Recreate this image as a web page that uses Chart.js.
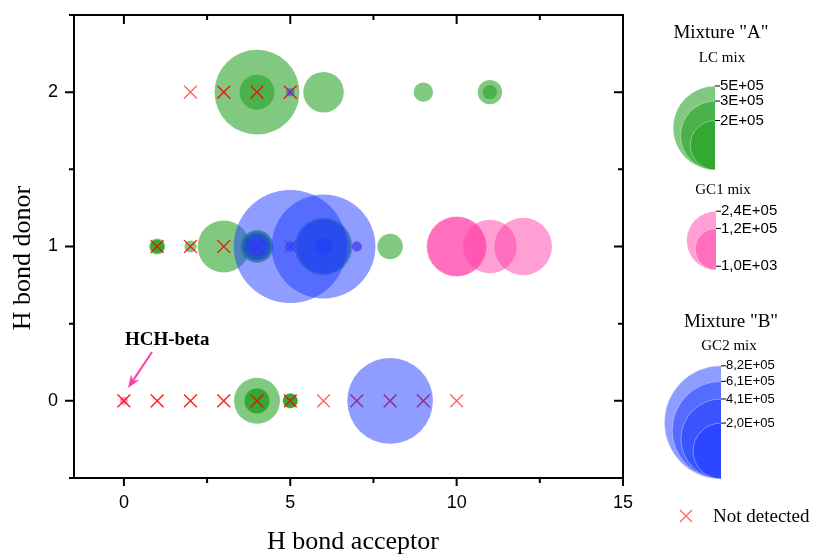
<!DOCTYPE html>
<html>
<head>
<meta charset="utf-8">
<script src="https://cdn.jsdelivr.net/npm/chart.js@4.4.1/dist/chart.umd.min.js"></script>
<style>
html,body{margin:0;padding:0;background:#ffffff;}
#wrap{width:813px;height:554px;position:relative;}
</style>
</head>
<body>
<div id="wrap"><canvas id="c" width="813" height="554"></canvas></div>
<script>
// ---- Axis ticks ----
const xTickValues = [0, 5, 10, 15];
const xMinorTicks = [2.5, 7.5, 12.5];
const yTickValues = [0, 1, 2];
const yMinorTicks = [0.5, 1.5];

// ---- Mixture "A": LC mix (peak intensity) ----
const lcX = [4, 4, 6, 9, 11, 11, 1, 1, 1, 2, 3, 4, 4, 4, 6, 8, 4, 4, 4, 5, 5, 5];
const lcY = [2, 2, 2, 2, 2, 2, 1, 1, 1, 1, 1, 1, 1, 1, 1, 1, 0, 0, 0, 0, 0, 0];
const lcValue = [5.0e5, 8.5e4, 1.14e5, 2.6e4, 4.1e4, 1.4e4,
                 1.8e4, 1.3e4, 1.3e4, 1.0e4, 1.88e5, 7.5e4, 6.5e4, 5.0e4, 2.3e5, 4.5e4,
                 1.47e5, 4.3e4, 4.3e4, 1.65e4, 1.4e4, 1.4e4];

// ---- Mixture "A": GC1 mix ----
const gc1X = [10, 10, 11, 12, 4, 7, 0];
const gc1Y = [1, 1, 1, 1, 1, 1, 0];
const gc1Value = [2.5e5, 2.4e5, 2.0e5, 2.3e5, 1.9e4, 7.0e3, 4.4e3];

// ---- Mixture "B": GC2 mix ----
const gc2X = [5, 6, 6, 6, 4, 4, 5, 7, 8, 5];
const gc2Y = [1, 1, 1, 1, 1, 1, 1, 1, 0, 2];
const gc2Value = [8.2e5, 6.9e5, 1.87e5, 2.0e4, 4.5e4, 2.6e4, 7.2e3, 6.4e3, 4.7e5, 4.7e3];

// ---- Not detected ----
const ndX = [0,0,1,1,2,2,3,3,4,4,5,5,6,7,7,8,8,9,9,10, 1,1,2,2,3,3,4,4,5, 2,3,3,4,4,5,5];
const ndY = [0,0,0,0,0,0,0,0,0,0,0,0,0,0,0,0,0,0,0,0, 1,1,1,1,1,1,1,1,1, 2,2,2,2,2,2,2];

// ---- Bubble size legends (values and their rounded labels) ----
const lcLegendValues = [4.9e5, 3.3e5, 1.7e5];
const lcLegendLabels = ['5E+05', '3E+05', '2E+05'];
const gc1LegendValues = [2.4e5, 1.2e5, 1.0e3];
const gc1LegendLabels = ['2,4E+05', '1,2E+05', '1,0E+03'];
const gc2LegendValues = [8.2e5, 6.1e5, 4.1e5, 2.0e5];
const gc2LegendLabels = ['8,2E+05', '6,1E+05', '4,1E+05', '2,0E+05'];

// ---- styles ----
const K_LC = 0.06, K_GC1 = 0.06, K_GC2 = 0.0625;
const GREEN = 'rgba(34,160,34,0.57)';
const PINK = 'rgba(255,64,170,0.5)';
const BLUE = 'rgba(30,60,255,0.5)';
const RED = 'rgba(255,0,0,0.62)';
const SERIF = '"Liberation Serif", "Times New Roman", serif';
const SANS = '"Liberation Sans", Arial, sans-serif';

const sizeOf = (v, k) => k * Math.sqrt(v);
const bubbles = (xs, ys, vs, k) => xs.map((x, i) => ({ x: x, y: ys[i], r: sizeOf(vs[i], k) }));

const decor = {
  id: 'decor',
  afterDraw(chart) {
    const ctx = chart.ctx;
    const xs = chart.scales.x, ys = chart.scales.y;
    const L = chart.chartArea.left, R = chart.chartArea.right, T = chart.chartArea.top, B = chart.chartArea.bottom;
    ctx.save();
    // frame
    ctx.strokeStyle = '#000'; ctx.lineWidth = 2; ctx.lineCap = 'butt';
    ctx.beginPath();
    ctx.moveTo(L - 5, T); ctx.lineTo(R + 1, T);
    ctx.moveTo(L - 5, B); ctx.lineTo(R + 1, B);
    ctx.moveTo(L, T); ctx.lineTo(L, B + 1);
    ctx.moveTo(R, T - 1); ctx.lineTo(R, B + 1);
    ctx.stroke();
    // ticks
    ctx.beginPath();
    xTickValues.forEach(v => { const p = xs.getPixelForValue(v); ctx.moveTo(p, B); ctx.lineTo(p, B + 8); ctx.moveTo(p, T); ctx.lineTo(p, T + 9); });
    xMinorTicks.forEach(v => { const p = xs.getPixelForValue(v); ctx.moveTo(p, B); ctx.lineTo(p, B + 5); ctx.moveTo(p, T); ctx.lineTo(p, T + 5); });
    yTickValues.forEach(v => { const p = ys.getPixelForValue(v); ctx.moveTo(L, p); ctx.lineTo(L - 9, p); ctx.moveTo(R, p); ctx.lineTo(R - 9, p); });
    yMinorTicks.forEach(v => { const p = ys.getPixelForValue(v); ctx.moveTo(L, p); ctx.lineTo(L - 5, p); ctx.moveTo(R, p); ctx.lineTo(R - 5, p); });
    ctx.stroke();

    // axis titles
    ctx.fillStyle = '#000';
    ctx.font = '26px ' + SERIF;
    ctx.textAlign = 'center'; ctx.textBaseline = 'alphabetic';
    ctx.fillText('H bond acceptor', 353, 549);
    ctx.save();
    ctx.translate(30, 258); ctx.rotate(-Math.PI / 2);
    ctx.fillText('H bond donor', 0, 0);
    ctx.restore();

    // annotation
    ctx.font = 'bold 19px ' + SERIF;
    ctx.textAlign = 'left';
    ctx.fillText('HCH-beta', 125, 345);
    const ax0 = 152, ay0 = 352, ax1 = 128, ay1 = 388;
    const ang = Math.atan2(ay1 - ay0, ax1 - ax0);
    ctx.strokeStyle = '#FF3FA0'; ctx.fillStyle = '#FF3FA0'; ctx.lineWidth = 2;
    ctx.beginPath(); ctx.moveTo(ax0, ay0);
    ctx.lineTo(ax1 - 8 * Math.cos(ang), ay1 - 8 * Math.sin(ang)); ctx.stroke();
    ctx.beginPath();
    ctx.moveTo(ax1, ay1);
    ctx.lineTo(ax1 - 13 * Math.cos(ang) + 5 * Math.sin(ang), ay1 - 13 * Math.sin(ang) - 5 * Math.cos(ang));
    ctx.lineTo(ax1 - 9 * Math.cos(ang), ay1 - 9 * Math.sin(ang));
    ctx.lineTo(ax1 - 13 * Math.cos(ang) - 5 * Math.sin(ang), ay1 - 13 * Math.sin(ang) + 5 * Math.cos(ang));
    ctx.closePath(); ctx.fill();

    // legends
    ctx.fillStyle = '#000';
    ctx.textAlign = 'center';
    ctx.font = '19px ' + SERIF;
    ctx.fillText('Mixture "A"', 721, 38);
    ctx.fillText('Mixture "B"', 731, 327);
    ctx.font = '15px ' + SERIF;
    ctx.fillText('LC mix', 722, 62);
    ctx.fillText('GC1 mix', 723, 194);
    ctx.fillText('GC2 mix', 729, 350);

    function sizeLegend(values, labels, k, color, fx, by, fontPx) {
      values.forEach(v => {
        const r = sizeOf(v, k);
        ctx.beginPath();
        ctx.arc(fx, by - r, r, Math.PI / 2, Math.PI * 1.5, false);
        ctx.closePath();
        ctx.fillStyle = color; ctx.fill();
        ctx.beginPath();
        ctx.arc(fx, by - r, r, Math.PI / 2, Math.PI * 1.5, false);
        ctx.strokeStyle = 'rgba(255,255,255,0.45)'; ctx.lineWidth = 0.8; ctx.stroke();
      });
      ctx.strokeStyle = '#000'; ctx.lineWidth = 1; ctx.fillStyle = '#000';
      ctx.font = fontPx + 'px ' + SANS; ctx.textAlign = 'left'; ctx.textBaseline = 'middle';
      values.forEach((v, i) => {
        const y = by - 2 * sizeOf(v, k);
        ctx.beginPath(); ctx.moveTo(fx, y); ctx.lineTo(fx + 5, y); ctx.stroke();
        ctx.fillText(labels[i], fx + 5, y);
      });
      ctx.textBaseline = 'alphabetic';
    }
    sizeLegend(lcLegendValues, lcLegendLabels, K_LC, GREEN, 715, 170, 15);
    sizeLegend(gc1LegendValues, gc1LegendLabels, K_GC1, PINK, 716, 270, 15);
    sizeLegend(gc2LegendValues, gc2LegendLabels, K_GC2, BLUE, 721, 479, 13);

    // not detected legend
    ctx.strokeStyle = RED; ctx.lineWidth = 1.3;
    ctx.beginPath();
    ctx.moveTo(680, 510); ctx.lineTo(692, 522);
    ctx.moveTo(692, 510); ctx.lineTo(680, 522);
    ctx.stroke();
    ctx.fillStyle = '#000'; ctx.font = '19px ' + SERIF; ctx.textAlign = 'left';
    ctx.fillText('Not detected', 713, 522);
    ctx.restore();
  }
};

new Chart(document.getElementById('c'), {
  type: 'bubble',
  data: {
    datasets: [
      { type: 'bubble', label: 'GC2 mix', order: 0, data: bubbles(gc2X, gc2Y, gc2Value, K_GC2),
        backgroundColor: BLUE, borderWidth: 0, hoverBorderWidth: 0 },
      { type: 'scatter', label: 'Not detected', order: 1, showLine: false,
        data: ndX.map((x, i) => ({ x: x, y: ndY[i] })),
        pointStyle: 'crossRot', pointRadius: 9, pointBorderColor: RED, pointBorderWidth: 1.3,
        pointBackgroundColor: 'rgba(0,0,0,0)', borderColor: RED },
      { type: 'bubble', label: 'GC1 mix', order: 2, data: bubbles(gc1X, gc1Y, gc1Value, K_GC1),
        backgroundColor: PINK, borderWidth: 0, hoverBorderWidth: 0 },
      { type: 'bubble', label: 'LC mix', order: 3, data: bubbles(lcX, lcY, lcValue, K_LC),
        backgroundColor: GREEN, borderWidth: 0, hoverBorderWidth: 0 }
    ]
  },
  options: {
    responsive: false,
    devicePixelRatio: 1,
    animation: false,
    events: [],
    layout: { autoPadding: false, padding: { left: 0, top: 15, right: 190, bottom: 0 } },
    plugins: { legend: { display: false }, tooltip: { enabled: false } },
    scales: {
      x: {
        type: 'linear', position: 'bottom', min: -1.5, max: 15,
        grid: { display: false }, border: { display: false },
        ticks: { font: { family: SANS, size: 18 }, color: '#000', padding: 6 },
        afterBuildTicks: s => { s.ticks = xTickValues.map(v => ({ value: v })); },
        afterFit: s => { s.height = 76; s.paddingLeft = 0; s.paddingRight = 0; s.paddingTop = 0; s.paddingBottom = 0; }
      },
      y: {
        type: 'linear', position: 'left', min: -0.5, max: 2.5,
        grid: { display: false }, border: { display: false },
        ticks: { font: { family: SANS, size: 18 }, color: '#000', padding: 8 },
        afterBuildTicks: s => { s.ticks = yTickValues.map(v => ({ value: v })); },
        afterFit: s => { s.width = 74; s.paddingTop = 0; s.paddingBottom = 0; s.paddingLeft = 0; s.paddingRight = 0; }
      }
    }
  },
  plugins: [decor]
});
</script>
</body>
</html>
